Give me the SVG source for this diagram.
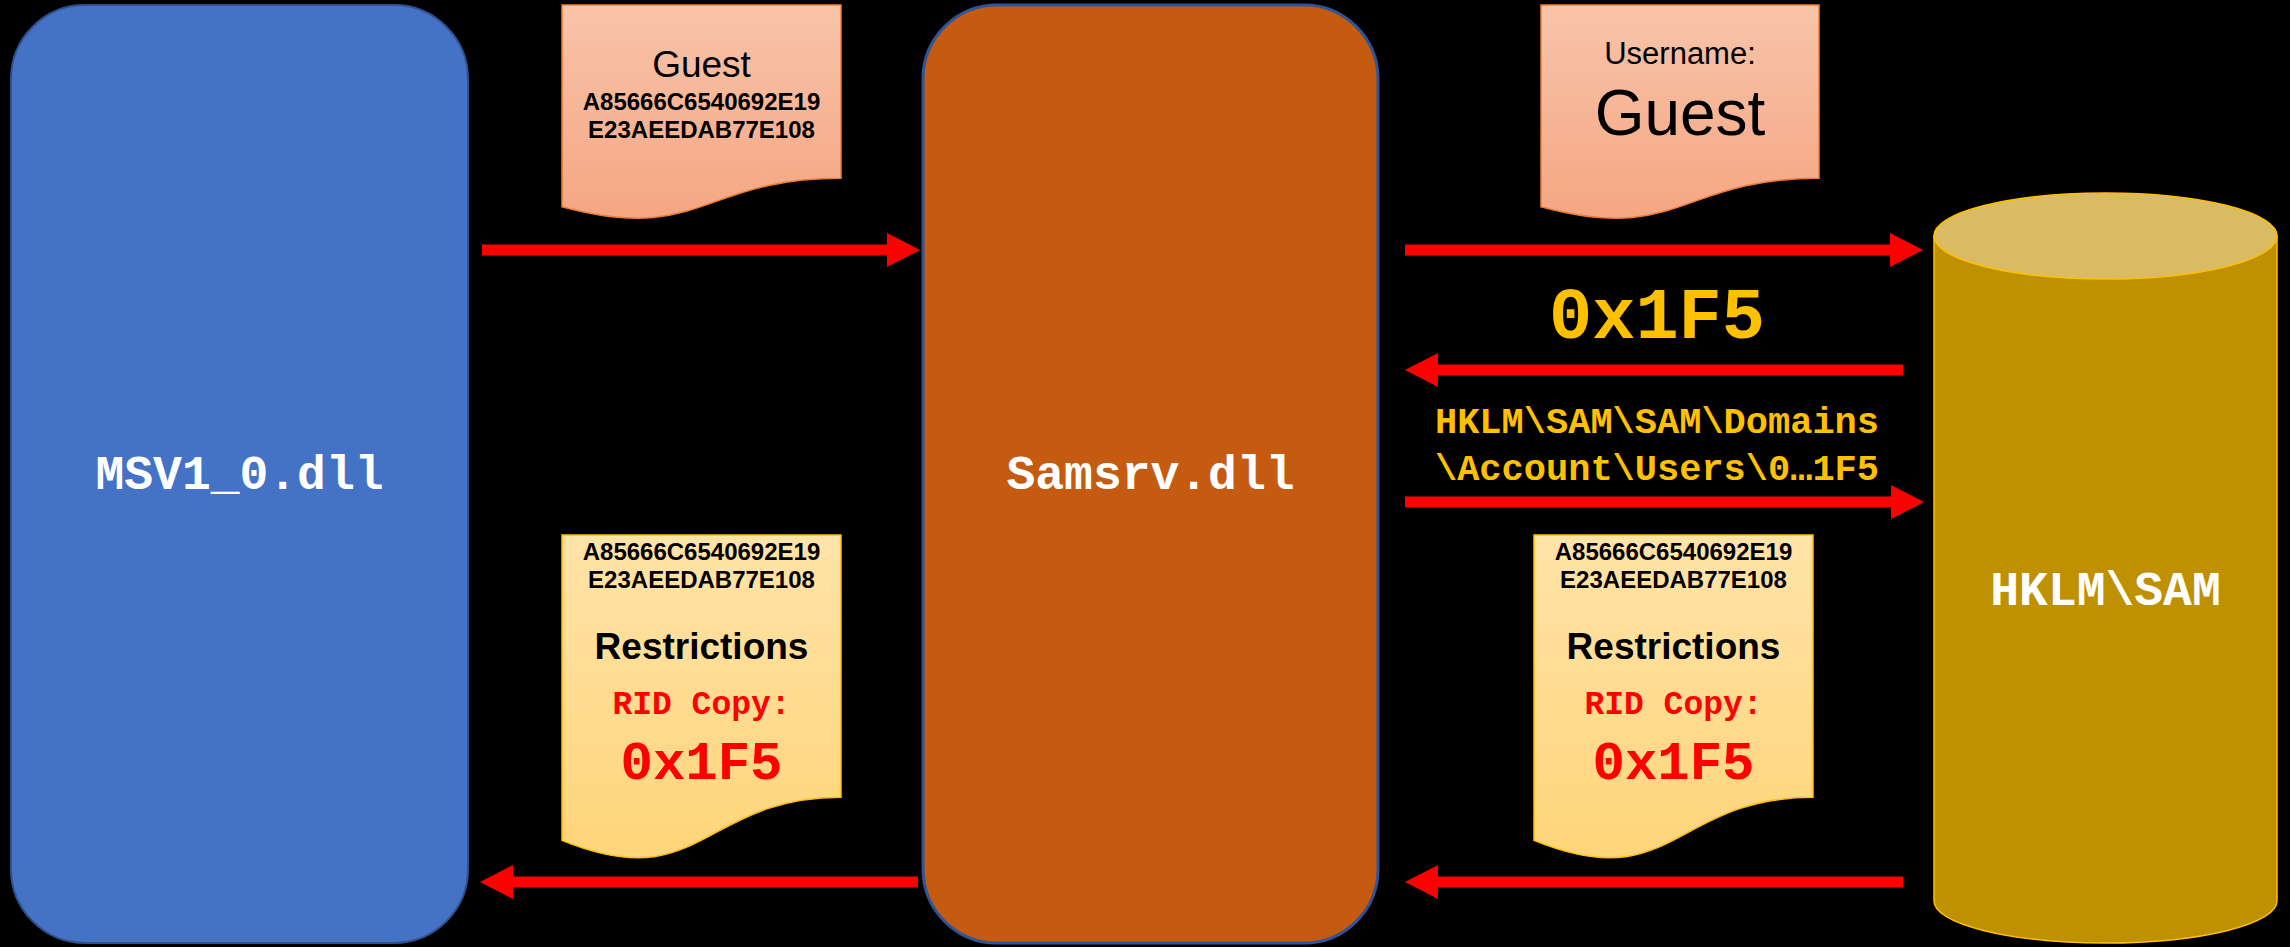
<svg xmlns="http://www.w3.org/2000/svg" width="2290" height="947" viewBox="0 0 2290 947">
<defs>
<linearGradient id="gSalmon" x1="0" y1="0" x2="0" y2="1">
<stop offset="0" stop-color="#F8C4AA"/>
<stop offset="1" stop-color="#F5A683"/>
</linearGradient>
<linearGradient id="gGold" x1="0" y1="0" x2="0" y2="1">
<stop offset="0" stop-color="#FFE3A8"/>
<stop offset="1" stop-color="#FFD57A"/>
</linearGradient>
<marker id="ah" markerUnits="userSpaceOnUse" markerWidth="34" markerHeight="34" refX="0" refY="17" orient="auto" viewBox="0 0 34 34">
<path d="M0,0 L33,17 L0,34 Z" fill="#FF0000"/>
</marker>
</defs>
<style>
.mono{font-family:"Liberation Mono","Courier New",monospace;font-weight:bold}
.sans{font-family:"Liberation Sans",Arial,sans-serif}
.node{fill:#FFFFFF;font-size:48px}
.hash{font-size:24px;font-weight:bold;fill:#000}
.docS{fill:url(#gSalmon);stroke:#ED7D31;stroke-width:1.5}
.docG{fill:url(#gGold);stroke:#FFC000;stroke-width:1.5}
.conn line{stroke:#FF0000;stroke-width:11;marker-end:url(#ah)}
</style>
<rect x="0" y="0" width="2290" height="947" fill="#000000"/>

<g id="msv">
<rect x="11" y="5" width="457" height="938" rx="74" ry="74" fill="#4472C4" stroke="#2F528F" stroke-width="2"/>
<text class="mono node" x="239.5" y="489" text-anchor="middle">MSV1_0.dll</text>
</g>

<g id="samsrv">
<rect x="923" y="5" width="455" height="938" rx="74" ry="74" fill="#C55A11" stroke="#2F5597" stroke-width="3"/>
<text class="mono node" x="1150.5" y="489" text-anchor="middle">Samsrv.dll</text>
</g>

<g id="sam">
<path d="M1934,236 V901 A171.5,42 0 0 0 2277,901 V236 Z" fill="#BF9000" stroke="#FFC000" stroke-width="1.5"/>
<ellipse cx="2105.5" cy="236" rx="171.5" ry="43" fill="#D9BB63" stroke="#FFC000" stroke-width="1.5"/>
<text class="mono node" x="2105.5" y="605" text-anchor="middle">HKLM\SAM</text>
</g>

<g id="doc-guest-hash">
<path class="docS" d="M562,5 H841 V178.2 C701.5,178.2 701.5,244.2 562,206.7 Z"/>
<text class="sans" x="701.5" y="77" font-size="37" text-anchor="middle" fill="#000">Guest</text>
<text class="sans hash" x="701.5" y="110" text-anchor="middle">A85666C6540692E19</text>
<text class="sans hash" x="701.5" y="138" text-anchor="middle">E23AEEDAB77E108</text>
</g>

<g id="doc-username">
<path class="docS" d="M1541,5 H1819 V178.2 C1680,178.2 1680,244.2 1541,206.7 Z"/>
<text class="sans" x="1680" y="64" font-size="31" text-anchor="middle" fill="#000">Username:</text>
<text class="sans" x="1680" y="135" font-size="64" text-anchor="middle" fill="#000">Guest</text>
</g>

<g id="doc-restrictions-left">
<path class="docG" d="M562,535 H841 V797.3 C701.5,797.3 701.5,897.2 562,840.4 Z"/>
<text class="sans hash" x="701.5" y="560" text-anchor="middle">A85666C6540692E19</text>
<text class="sans hash" x="701.5" y="588" text-anchor="middle">E23AEEDAB77E108</text>
<text class="sans" x="701.5" y="659" font-size="37" font-weight="bold" text-anchor="middle" fill="#000">Restrictions</text>
<text class="mono" x="701.5" y="714" font-size="33" text-anchor="middle" fill="#FF0000">RID Copy:</text>
<text class="mono" x="701.5" y="779" font-size="54" text-anchor="middle" fill="#FF0000">0x1F5</text>
</g>

<g id="doc-restrictions-right">
<path class="docG" d="M1534,535 H1813 V797.3 C1673.5,797.3 1673.5,897.2 1534,840.4 Z"/>
<text class="sans hash" x="1673.5" y="560" text-anchor="middle">A85666C6540692E19</text>
<text class="sans hash" x="1673.5" y="588" text-anchor="middle">E23AEEDAB77E108</text>
<text class="sans" x="1673.5" y="659" font-size="37" font-weight="bold" text-anchor="middle" fill="#000">Restrictions</text>
<text class="mono" x="1673.5" y="714" font-size="33" text-anchor="middle" fill="#FF0000">RID Copy:</text>
<text class="mono" x="1673.5" y="779" font-size="54" text-anchor="middle" fill="#FF0000">0x1F5</text>
</g>

<g id="connectors" class="conn">
<line x1="482" y1="250" x2="887" y2="250"/>
<line x1="1405" y1="250" x2="1890" y2="250"/>
<line x1="1903" y1="370" x2="1438" y2="370"/>
<line x1="1405" y1="502" x2="1891" y2="502"/>
<line x1="918" y1="882" x2="513" y2="882"/>
<line x1="1903" y1="882" x2="1438" y2="882"/>
</g>

<g id="labels">
<text class="mono" x="1657" y="338" font-size="72" text-anchor="middle" fill="#FFC000">0x1F5</text>
<text class="mono" x="1657" y="433" font-size="37" text-anchor="middle" fill="#FFC000">HKLM\SAM\SAM\Domains</text>
<text class="mono" x="1657" y="480" font-size="37" text-anchor="middle" fill="#FFC000">\Account\Users\0…1F5</text>
</g>
</svg>
